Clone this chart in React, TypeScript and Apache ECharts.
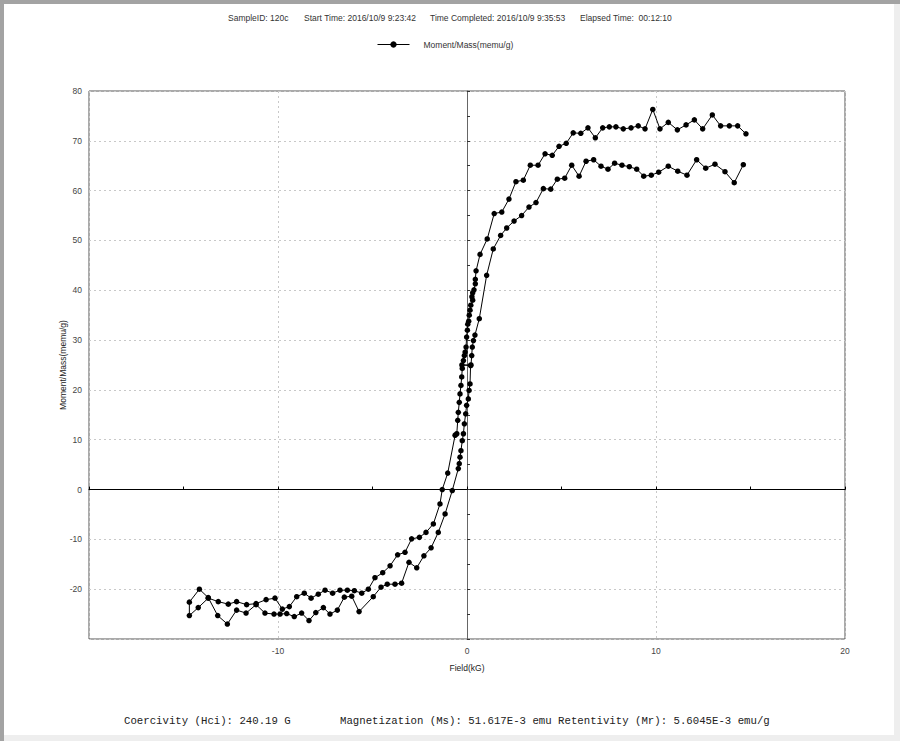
import React, { useEffect, useRef } from "react";
import * as echarts from "echarts";

// Descending branch (field decreasing from +15 kG to -15 kG)
const descField = [14.76, 14.32, 13.88, 13.42, 12.98, 12.47, 12.03, 11.59, 11.13, 10.65, 10.21, 9.83, 9.42, 9.06, 8.68, 8.27, 7.88, 7.53, 7.18, 6.79, 6.4, 6.02, 5.62, 5.25, 4.87, 4.51, 4.13, 3.76, 3.35, 2.98, 2.59, 2.22, 1.84, 1.44, 1.07, 0.69, 0.48, 0.44, 0.44, 0.37, 0.3, 0.26, 0.3, 0.2, 0.16, 0.12, 0.09, 0.04, 0.02, -0.02, -0.05, -0.1, -0.14, -0.19, -0.25, -0.28, -0.32, -0.37, -0.41, -0.46, -0.49, -0.54, -0.63, -1.02, -1.31, -1.43, -1.78, -2.17, -2.52, -2.93, -3.28, -3.67, -4.07, -4.46, -4.87, -5.22, -5.57, -5.96, -6.33, -6.72, -7.11, -7.51, -7.87, -8.25, -8.61, -9.01, -9.4, -9.77, -10.16, -10.63, -11.16, -11.66, -12.19, -12.63, -13.16, -13.69, -14.22, -14.69];
const descMoment = [71.4, 73.0, 73.0, 73.0, 75.2, 72.4, 74.2, 73.2, 72.2, 73.7, 72.4, 76.3, 72.4, 73.0, 72.6, 72.4, 72.8, 72.8, 72.6, 70.6, 72.6, 71.5, 71.6, 69.5, 68.9, 67.1, 67.4, 65.1, 65.1, 62.1, 61.8, 58.3, 55.7, 55.4, 50.3, 47.2, 43.9, 42.2, 41.3, 40.1, 39.5, 38.7, 38.0, 37.0, 36.0, 35.0, 33.8, 33.2, 32.0, 30.6, 28.6, 27.6, 26.9, 25.9, 24.3, 22.6, 20.9, 19.2, 17.5, 15.5, 13.9, 11.2, 10.9, 3.3, 0.0, -2.9, -6.9, -8.6, -9.6, -9.9, -12.6, -13.1, -15.3, -16.7, -17.7, -20.0, -20.8, -20.3, -20.2, -20.2, -20.8, -20.2, -21.0, -21.8, -20.8, -21.5, -23.5, -24.0, -21.8, -22.1, -22.9, -23.1, -22.5, -23.0, -22.5, -21.8, -23.7, -25.3];

// Ascending branch (field increasing from -15 kG to +15 kG)
const ascField = [-14.69, -14.16, -13.69, -13.19, -12.68, -12.19, -11.69, -11.16, -10.69, -10.21, -9.89, -9.54, -9.14, -8.75, -8.36, -8.0, -7.6, -7.25, -6.86, -6.49, -6.1, -5.71, -4.96, -4.55, -4.22, -3.81, -3.46, -3.07, -2.66, -2.28, -1.9, -1.52, -1.16, -0.78, -0.46, -0.41, -0.37, -0.32, -0.25, -0.19, -0.14, -0.07, -0.02, 0.07, 0.11, 0.16, 0.19, -0.27, 0.21, 0.25, 0.28, 0.34, 0.42, 0.65, 1.04, 1.39, 1.78, 2.1, 2.49, 2.89, 3.28, 3.65, 4.04, 4.43, 4.78, 5.17, 5.54, 5.93, 6.3, 6.7, 7.09, 7.46, 7.81, 8.2, 8.59, 8.98, 9.35, 9.75, 10.14, 10.65, 11.15, 11.64, 12.15, 12.63, 13.12, 13.65, 14.14, 14.62];
const ascMoment = [-22.6, -20.0, -21.7, -25.3, -27.0, -24.2, -24.8, -23.1, -24.8, -25.0, -25.0, -24.9, -25.5, -24.8, -26.3, -24.7, -23.7, -25.0, -24.2, -21.6, -21.4, -24.5, -21.5, -19.6, -19.0, -19.0, -18.8, -14.6, -15.7, -13.3, -11.7, -8.6, -4.9, -0.2, 4.2, 5.2, 6.5, 7.8, 9.8, 11.2, 13.2, 15.2, 16.9, 18.2, 19.9, 21.2, 24.9, 25.0, 25.0, 26.9, 28.6, 29.9, 31.0, 34.3, 43.0, 48.3, 51.0, 52.5, 53.9, 55.0, 56.7, 57.6, 60.4, 60.3, 62.3, 62.5, 65.1, 62.9, 65.9, 66.2, 64.9, 64.3, 65.5, 65.1, 64.8, 64.3, 62.9, 63.1, 63.7, 64.9, 63.9, 63.1, 66.2, 64.5, 65.3, 63.8, 61.6, 65.2];

const seriesName = "Moment/Mass(memu/g)";
const xAxisName = "Field(kG)";
const yAxisName = "Moment/Mass(memu/g)";
const headerTexts = ["SampleID: 120c", "Start Time: 2016/10/9 9:23:42", "Time Completed: 2016/10/9 9:35:53", "Elapsed Time:  00:12:10"];
const footerTexts = ["Coercivity (Hci): 240.19 G", "Magnetization (Ms): 51.617E-3 emu Retentivity (Mr): 5.6045E-3 emu/g"];

const headerX = [228, 304, 430, 580];
const footerX = [124, 340];

export default function App() {
  const ref = useRef<HTMLDivElement>(null);
  useEffect(() => {
    if (!ref.current) return;
    const chart = echarts.init(ref.current, undefined, { renderer: "svg" });
    const points: number[][] = [];
    descField.forEach((f, i) => points.push([f, descMoment[i]]));
    ascField.forEach((f, i) => points.push([f, ascMoment[i]]));
    const sans = "Liberation Sans, Arial, sans-serif";
    const mono = "Liberation Mono, Courier New, monospace";
    const graphics: any[] = [
      { type: "rect", shape: { x: 0, y: 0, width: 900, height: 4 }, style: { fill: "#a3a3a3" }, silent: true },
      { type: "rect", shape: { x: 0, y: 0, width: 4, height: 741 }, style: { fill: "#a3a3a3" }, silent: true },
      { type: "rect", shape: { x: 894, y: 4, width: 6, height: 737 }, style: { fill: "#eeeeee" }, silent: true },
      { type: "rect", shape: { x: 4, y: 735, width: 890, height: 6 }, style: { fill: "#eeeeee" }, silent: true },
      {
        type: "text",
        x: 62.5,
        y: 365,
        rotation: Math.PI / 2,
        style: { text: yAxisName, fontSize: 8.5, fontFamily: sans, fill: "#222", align: "center", verticalAlign: "middle" },
      },
    ];
    headerTexts.forEach((t, i) =>
      graphics.push({
        type: "text",
        x: headerX[i],
        y: 18,
        style: { text: t, fontSize: 8.5, fontFamily: sans, fill: "#333", align: "left", verticalAlign: "middle" },
      })
    );
    footerTexts.forEach((t, i) =>
      graphics.push({
        type: "text",
        x: footerX[i],
        y: 721,
        style: { text: t, fontSize: 10.7, fontFamily: mono, fill: "#222", align: "left", verticalAlign: "middle" },
      })
    );
    const labelStyle = { color: "#444", fontSize: 8.5, fontFamily: sans };
    chart.setOption({
      animation: false,
      backgroundColor: "#ffffff",
      graphic: graphics,
      legend: {
        data: [seriesName],
        left: 377,
        top: 40,
        padding: 0,
        itemWidth: 32,
        itemHeight: 8,
        lineStyle: { width: 1 },
        textStyle: { fontSize: 8.5, fontFamily: sans, color: "#333", padding: [0, 0, 0, 9] },
      },
      grid: { left: 89, top: 91, width: 756, height: 548, show: true, borderColor: "#555", borderWidth: 1, containLabel: false },
      xAxis: [
        {
          type: "value",
          min: -20,
          max: 20,
          interval: 10,
          position: "bottom",
          name: xAxisName,
          nameLocation: "middle",
          nameGap: 24,
          nameTextStyle: { color: "#222", fontSize: 8.5, fontFamily: sans },
          axisLine: { show: false, onZero: false },
          axisTick: { show: false },
          axisLabel: { ...labelStyle, margin: 7, showMinLabel: false },
          splitLine: { show: true, lineStyle: { color: "#c8c8c8", type: [2, 3], width: 1 } },
        },
        {
          type: "value",
          min: -20,
          max: 20,
          interval: 5,
          position: "bottom",
          axisLine: { show: true, onZero: true, onZeroAxisIndex: 0, lineStyle: { color: "#000", width: 1 } },
          axisTick: { show: true, inside: true, length: 3, lineStyle: { color: "#000" } },
          axisLabel: { show: false },
          splitLine: { show: false },
        },
      ],
      yAxis: [
        {
          type: "value",
          min: -30,
          max: 80,
          interval: 10,
          position: "left",
          axisLine: { show: false, onZero: false },
          axisTick: { show: false },
          axisLabel: { ...labelStyle, margin: 7, showMinLabel: false },
          splitLine: { show: true, lineStyle: { color: "#c8c8c8", type: [2, 3], width: 1 } },
        },
        {
          type: "value",
          min: -30,
          max: 80,
          interval: 5,
          position: "left",
          axisLine: { show: true, onZero: true, onZeroAxisIndex: 0, lineStyle: { color: "#666", width: 1 } },
          axisTick: { show: true, inside: true, length: 3, lineStyle: { color: "#333" } },
          axisLabel: { show: false },
          splitLine: { show: false },
        },
      ],
      series: [
        {
          type: "line",
          name: seriesName,
          xAxisIndex: 0,
          yAxisIndex: 0,
          data: points,
          symbol: "circle",
          symbolSize: 5.5,
          showSymbol: true,
          showAllSymbol: true,
          lineStyle: { color: "#000", width: 1 },
          itemStyle: { color: "#000" },
          z: 5,
        },
      ],
    });
    return () => chart.dispose();
  }, []);
  return <div ref={ref} style={{ position: "absolute", left: 0, top: 0, width: 900, height: 741 }} />;
}
